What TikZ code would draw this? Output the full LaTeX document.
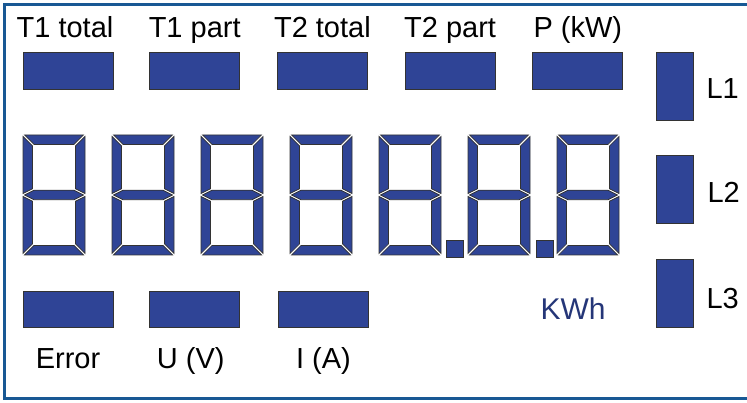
\documentclass[tikz,border=0pt]{standalone}
\usepackage{fontspec}
\setmainfont{Liberation Sans}
\usetikzlibrary{positioning}
\definecolor{segblue}{RGB}{47,68,150}
\definecolor{frameblue}{RGB}{24,88,148}

\begin{document}
\begin{tikzpicture}[x=1pt, y=1pt,
	seg/.style={fill=segblue, draw=black!80, line width=0.7pt},
	field/.style={seg, minimum width=90pt, minimum height=37pt, inner sep=0pt},
	phase/.style={seg, minimum width=37pt, minimum height=68pt, inner sep=0pt},
	lbl/.style={font=\fontsize{29}{33}\selectfont, inner sep=0pt}]
\useasboundingbox (0,0) rectangle (747,403);
\draw[frameblue, line width=3pt] (747,398.5) -- (4.5,398.5) -- (4.5,4.5) -- (747,4.5);

\node[field] (t1tot) at (68,332.5) {};
\node[field, right=36pt of t1tot] (t1part) {};
\node[field, right=37pt of t1part] (t2tot) {};
\node[field, right=37pt of t2tot] (t2part) {};
\node[field, right=37pt of t2part] (power) {};
\node[lbl, above=14pt of t1tot.north, anchor=base, xshift=-3pt] (t1totlbl) {T1 total};
\node[lbl, above=14pt of t1part.north, anchor=base] (t1partlbl) {T1 part};
\node[lbl, above=14pt of t2tot.north, anchor=base] (t2totlbl) {T2 total};
\node[lbl, above=14pt of t2part.north, anchor=base] (t2partlbl) {T2 part};
\node[lbl, above=14pt of power.north, anchor=base] (powerlbl) {P (kW)};

\node[field, minimum height=36pt] (err) at (68,94) {};
\node[field, minimum height=36pt, right=36pt of err] (volt) {};
\node[field, minimum height=36pt, right=38pt of volt] (amp) {};
\node[lbl, below=41pt of err.south, anchor=base] (errlbl) {Error};
\node[lbl, below=41pt of volt.south, anchor=base, xshift=-4pt] (voltlbl) {U (V)};
\node[lbl, below=41pt of amp.south, anchor=base] (amplbl) {I (A)};

\node[phase] (l1) at (674.5,317) {};
\node[phase, below=35pt of l1] (l2) {};
\node[phase, below=35pt of l2] (l3) {};
\node[lbl, right=13pt of l1.east, anchor=west, yshift=-3pt] (l1lbl) {L1};
\node[lbl, right=14pt of l2.east, anchor=west, yshift=-3pt] (l2lbl) {L2};
\node[lbl, right=13pt of l3.east, anchor=west, yshift=-5pt] (l3lbl) {L3};

\node[lbl, font=\fontsize{30}{34}\selectfont, text=segblue!80!black] (kwh) at (573,94.5) {KWh};

\foreach \x in {23,112,201,290,379,468,557}{
\begin{scope}[shift={(\x,148)}]
\draw[seg] (1.5,120) -- (60.5,120) -- (51,110.5) -- (11,110.5) -- cycle
	(1.5,0) -- (60.5,0) -- (51,9.5) -- (11,9.5) -- cycle
	(1.5,60) -- (11,64.75) -- (51,64.75) -- (60.5,60) -- (51,55.25) -- (11,55.25) -- cycle
	(0,118.5) -- (9.5,109) -- (9.5,66.25) -- (0,61.5) -- cycle
	(0,1.5) -- (9.5,11) -- (9.5,53.75) -- (0,58.5) -- cycle
	(62,118.5) -- (52.5,109) -- (52.5,66.25) -- (62,61.5) -- cycle
	(62,1.5) -- (52.5,11) -- (52.5,53.75) -- (62,58.5) -- cycle;
\end{scope}
}
\node[seg, minimum size=17pt, inner sep=0pt] (dp1) at (454.5,154.5) {};
\node[seg, minimum size=17pt, inner sep=0pt] (dp2) at (544.5,154.5) {};
\end{tikzpicture}
\end{document}
